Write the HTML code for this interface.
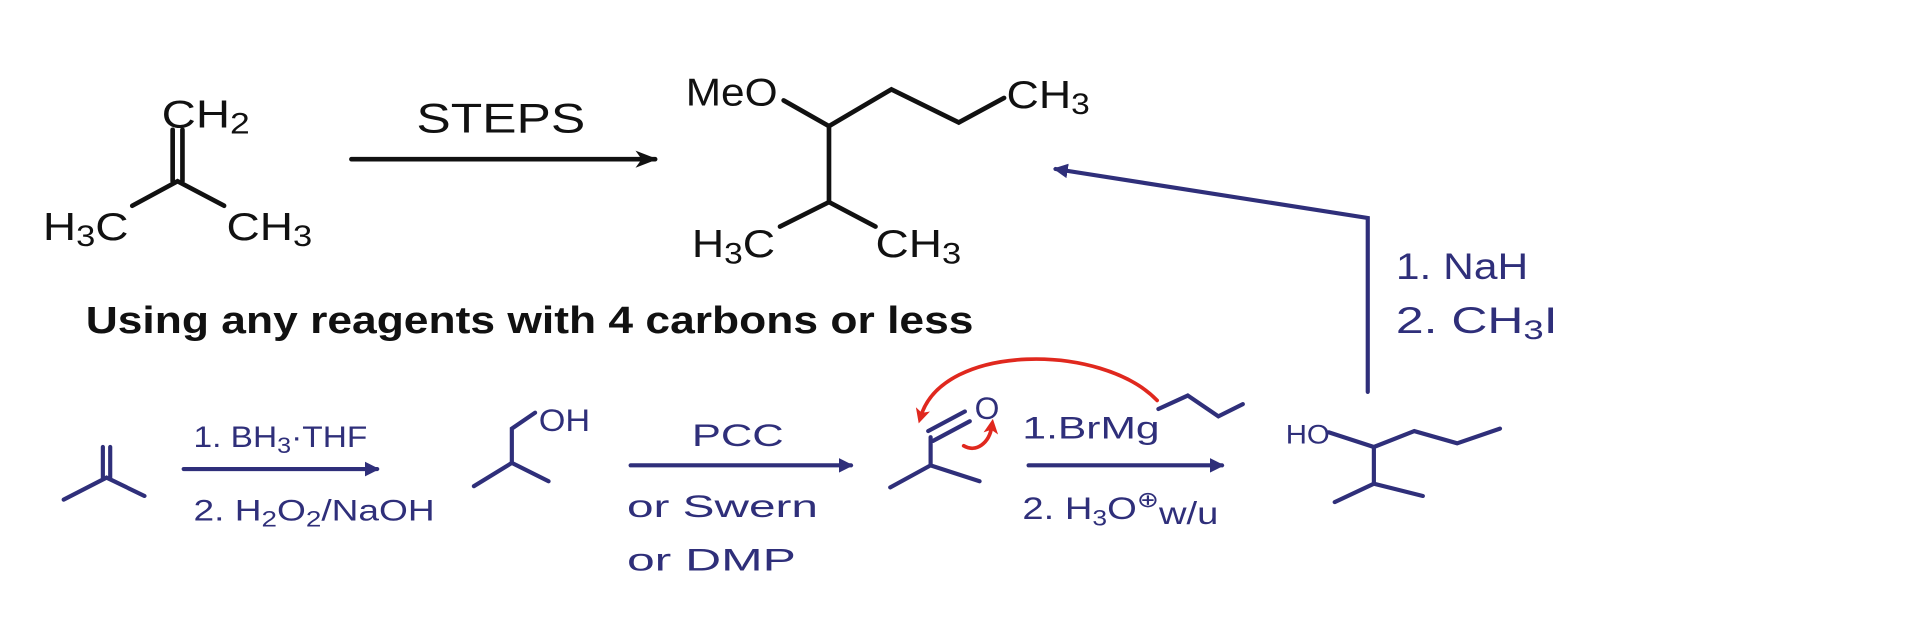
<!DOCTYPE html>
<html><head><meta charset="utf-8"><style>
html,body{margin:0;padding:0;background:#fff;}
svg{display:block;}
text{font-family:"Liberation Sans",sans-serif;}
</style></head><body>
<svg width="1920" height="627" viewBox="0 0 1568 512" preserveAspectRatio="none" xmlns="http://www.w3.org/2000/svg">
<defs>
<marker id="ab" markerWidth="12" markerHeight="12" refX="10" refY="6" orient="auto" markerUnits="userSpaceOnUse"><path d="M0,0 L12,6 L0,12 Z" fill="#2f2f7a"/></marker>
<marker id="ak" markerWidth="18" markerHeight="14" refX="16" refY="7" orient="auto" markerUnits="userSpaceOnUse"><path d="M0,0 L18,7 L0,14 L5,7 Z" fill="#111"/></marker>
<marker id="ar" markerWidth="12" markerHeight="12" refX="6" refY="6" orient="auto" markerUnits="userSpaceOnUse"><path d="M0,0 L12,6 L0,12 L3,6 Z" fill="#e0281e"/></marker>
</defs>
<g stroke="#111" stroke-width="3.8" fill="none" stroke-linecap="round">
<line x1="141" y1="106" x2="141" y2="148"/><line x1="149" y1="106" x2="149" y2="148"/>
<polyline points="108,168 145,148 183,168"/>
<line x1="287" y1="130" x2="535" y2="130" marker-end="url(#ak)"/>
<polyline points="640,82 677,103 728,73 783,100 820,80"/>
<polyline points="677,103 677,165"/>
<polyline points="637,185 677,165 715,185"/>
</g>
<g fill="#111" font-size="32">
<text x="132" y="104" textLength="72" lengthAdjust="spacingAndGlyphs">CH<tspan font-size="24" dy="5">2</tspan></text>
<text x="35" y="196" textLength="70" lengthAdjust="spacingAndGlyphs">H<tspan font-size="24" dy="5">3</tspan><tspan dy="-5">C</tspan></text>
<text x="185" y="196" textLength="70" lengthAdjust="spacingAndGlyphs">CH<tspan font-size="24" dy="5">3</tspan></text>
<text x="340" y="108" font-size="34" textLength="138" lengthAdjust="spacingAndGlyphs">STEPS</text>
<text x="560" y="86" textLength="75" lengthAdjust="spacingAndGlyphs">MeO</text>
<text x="822" y="88" textLength="68" lengthAdjust="spacingAndGlyphs">CH<tspan font-size="24" dy="5">3</tspan></text>
<text x="565" y="210" textLength="68" lengthAdjust="spacingAndGlyphs">H<tspan font-size="24" dy="5">3</tspan><tspan dy="-5">C</tspan></text>
<text x="715" y="210" textLength="70" lengthAdjust="spacingAndGlyphs">CH<tspan font-size="24" dy="5">3</tspan></text>
<text x="70" y="272" font-size="31" font-weight="bold" textLength="725" lengthAdjust="spacingAndGlyphs">Using any reagents with 4 carbons or less</text>
</g>
<g stroke="#2f2f7a" stroke-width="3.4" fill="none" stroke-linecap="round">
<polyline points="1117,320 1117,178 862,138" marker-end="url(#ab)"/>
<line x1="84" y1="365" x2="84" y2="390"/><line x1="90" y1="365" x2="90" y2="390"/>
<polyline points="52,408 87,390 118,405"/>
<line x1="150" y1="383" x2="308" y2="383" marker-end="url(#ab)"/>
<polyline points="387,397 418,378 448,393"/>
<polyline points="418,378 418,350 437,337"/>
<line x1="515" y1="380" x2="695" y2="380" marker-end="url(#ab)"/>
<polyline points="727,398 760,380 800,393"/>
<line x1="760" y1="380" x2="760" y2="357"/>
<line x1="758" y1="352" x2="788" y2="336"/><line x1="762" y1="360" x2="792" y2="344"/>
<polyline points="946,334 970,323 995,340 1015,330"/>
<line x1="840" y1="380" x2="998" y2="380" marker-end="url(#ab)"/>
<polyline points="1085,353 1122,365 1155,352 1190,362 1225,350"/>
<line x1="1122" y1="365" x2="1122" y2="395"/>
<polyline points="1090,410 1122,395 1162,405"/>
</g>
<g stroke="#e0281e" stroke-width="3" fill="none" stroke-linecap="round">
<path d="M945,327 C900,280 770,280 752,340" marker-end="url(#ar)"/>
<path d="M787,364 C797,370 808,362 810,348" marker-end="url(#ar)"/>
</g>
<g fill="#2f2f7a" font-size="24">
<text x="1140" y="228" font-size="30" textLength="108" lengthAdjust="spacingAndGlyphs">1. NaH</text>
<text x="1140" y="272" font-size="30" textLength="132" lengthAdjust="spacingAndGlyphs">2. CH<tspan font-size="22" dy="5">3</tspan><tspan dy="-5">I</tspan></text>
<text x="158" y="365" textLength="142" lengthAdjust="spacingAndGlyphs">1. BH<tspan font-size="18" dy="5">3</tspan><tspan dy="-5">·THF</tspan></text>
<text x="158" y="425" textLength="197" lengthAdjust="spacingAndGlyphs">2. H<tspan font-size="18" dy="5">2</tspan><tspan dy="-5">O</tspan><tspan font-size="18" dy="5">2</tspan><tspan dy="-5">/NaOH</tspan></text>
<text x="440" y="352" font-size="26" textLength="42" lengthAdjust="spacingAndGlyphs">OH</text>
<text x="565" y="364" font-size="26" textLength="75" lengthAdjust="spacingAndGlyphs">PCC</text>
<text x="512" y="422" font-size="26" textLength="156" lengthAdjust="spacingAndGlyphs">or Swern</text>
<text x="512" y="466" font-size="26" textLength="138" lengthAdjust="spacingAndGlyphs">or DMP</text>
<text x="796" y="342" font-size="26">O</text>
<text x="835" y="358" font-size="26" textLength="112" lengthAdjust="spacingAndGlyphs">1.BrMg</text>
<text x="835" y="424" font-size="26" textLength="160" lengthAdjust="spacingAndGlyphs">2. H<tspan font-size="18" dy="5">3</tspan><tspan dy="-5">O</tspan><tspan font-size="18" dy="-10">⊕</tspan><tspan dy="14">w/u</tspan></text>
<text x="1050" y="362" font-size="22" textLength="36" lengthAdjust="spacingAndGlyphs">HO</text>
</g>
</svg>
</body></html>
